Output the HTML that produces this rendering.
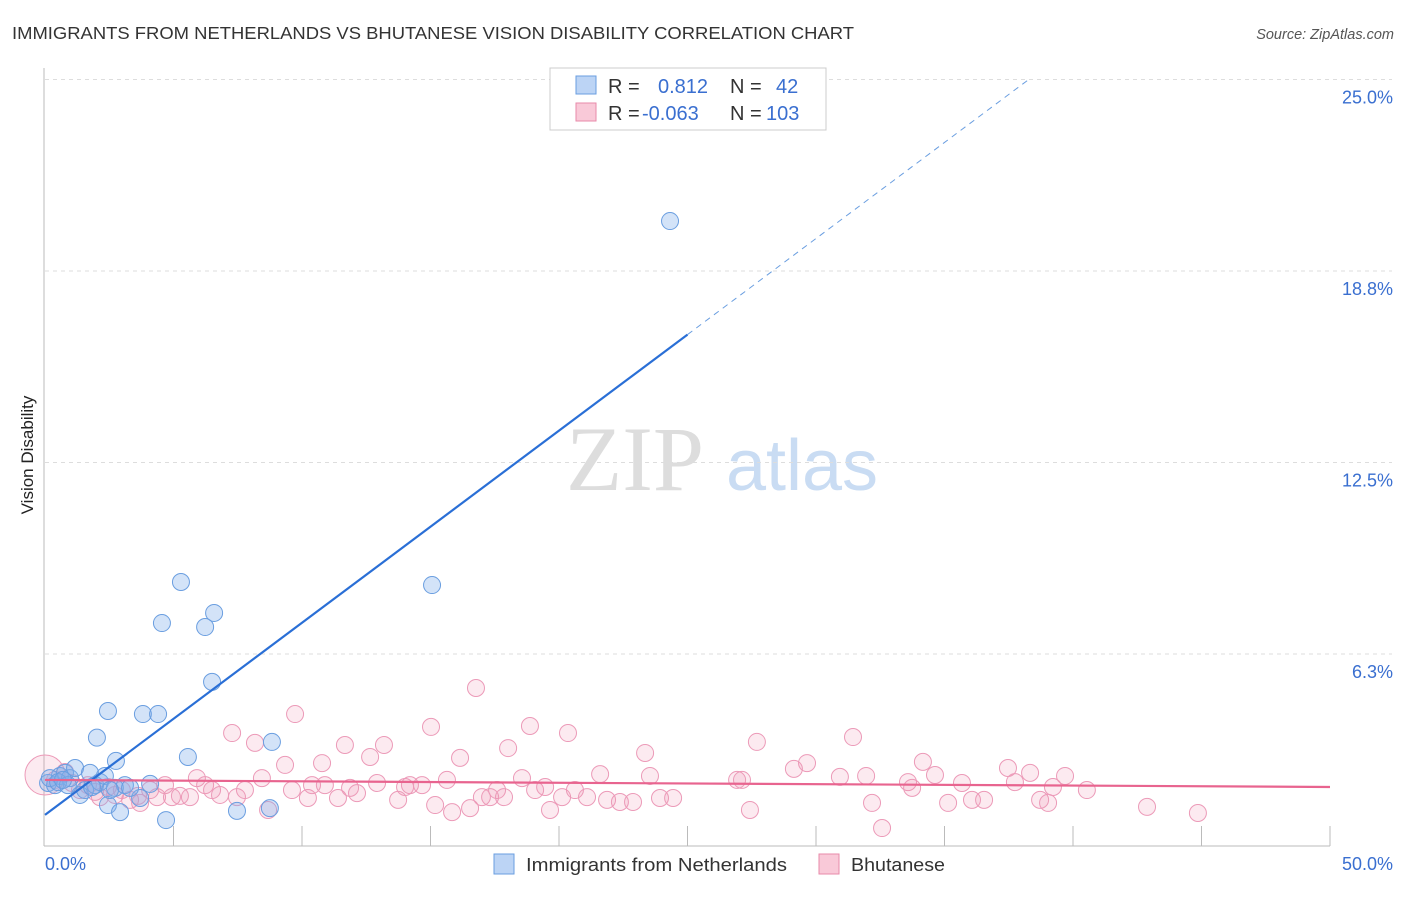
<!DOCTYPE html>
<html><head><meta charset="utf-8"><style>
body{margin:0;background:#fff;font-family:"Liberation Sans",sans-serif}
</style></head><body>
<svg width="1406" height="892" xmlns="http://www.w3.org/2000/svg" id="svg">
<text x="12" y="39" font-size="17.5" fill="#333" textLength="842" lengthAdjust="spacingAndGlyphs">IMMIGRANTS FROM NETHERLANDS VS BHUTANESE VISION DISABILITY CORRELATION CHART</text>
<text x="1394" y="39" font-size="14.5" fill="#555" font-style="italic" text-anchor="end">Source: ZipAtlas.com</text>
<text x="33" y="455" font-size="17" fill="#222" transform="rotate(-90 33 455)" text-anchor="middle">Vision Disability</text>
<g><text x="635" y="490" font-size="92" font-family="Liberation Serif,serif" fill="#ddd" text-anchor="middle">ZIP</text><text x="802" y="490" font-size="72" fill="#c9dcf3" text-anchor="middle">atlas</text></g>
<g id="grid"></g><g id="pts"></g><g id="lines"></g>
<g>
<rect x="550" y="68" width="276" height="62" fill="#fff" stroke="#ccc"/>
<rect x="576" y="76" width="20" height="18" fill="#bcd4f5" stroke="#6a9ee0"/>
<rect x="576" y="103" width="20" height="18" fill="#f9c9d8" stroke="#e88aaa"/>
<text x="608" y="93" font-size="20" fill="#333">R = <tspan fill="#3a6fd0" x="658">0.812</tspan><tspan x="730" fill="#333">N = </tspan><tspan fill="#3a6fd0" x="776">42</tspan></text>
<text x="608" y="120" font-size="20" fill="#333">R = <tspan fill="#3a6fd0" x="642">-0.063</tspan><tspan x="730" fill="#333">N = </tspan><tspan fill="#3a6fd0" x="766">103</tspan></text>
</g>
<g>
<rect x="494" y="854" width="20" height="20" fill="#bcd4f5" stroke="#6a9ee0"/>
<text x="526" y="871" font-size="18.5" fill="#333" textLength="261" lengthAdjust="spacingAndGlyphs">Immigrants from Netherlands</text>
<rect x="819" y="854" width="20" height="20" fill="#f9c9d8" stroke="#e88aaa"/>
<text x="851" y="871" font-size="18.5" fill="#333" textLength="94" lengthAdjust="spacingAndGlyphs">Bhutanese</text>
</g>
</svg>
<script>
const yTicks=[6.25,12.5,18.75,25];
const yTickLabels=["6.3%","12.5%","18.8%","25.0%"];
const xLabels=["0.0%","50.0%"];
const blueX=[0.12,0.39,0.58,0.78,0.97,1.17,1.36,1.56,1.75,1.95,2.14,2.33,2.45,2.72,2.92,3.11,2.02,2.45,2.76,3.81,4.40,4.55,5.29,6.23,6.58,6.50,5.56,8.83,4.09,3.70,4.71,7.47,8.75,15.06,24.32,0.19,0.51,0.89,1.83,2.53,3.31,0.70];
const blueY=[2.04,1.97,2.27,2.37,2.20,2.53,1.65,1.81,2.37,1.97,2.07,2.27,1.32,1.88,1.09,1.97,3.52,4.39,2.76,4.29,4.29,7.26,8.60,7.13,7.59,5.34,2.89,3.38,2.01,1.55,0.83,1.13,1.22,8.50,20.38,2.20,2.07,1.97,1.91,1.81,1.88,2.14];
const pinkX=[0,0.39,0.78,1.05,1.36,1.67,1.95,2.14,2.45,2.72,2.99,3.31,3.62,3.70,4.09,4.36,4.67,4.94,5.25,5.64,5.91,6.23,6.50,6.81,7.28,7.47,7.78,8.17,8.44,8.68,9.34,9.61,9.73,10.23,10.39,10.78,10.89,11.40,11.67,11.87,12.14,12.65,12.92,13.19,13.74,14.01,14.20,14.67,15.02,15.18,15.64,15.84,16.15,16.54,16.77,17.00,17.32,17.59,17.86,18.02,18.56,18.87,19.07,19.46,19.65,20.12,20.35,20.62,21.09,21.60,21.87,22.37,22.88,23.35,23.54,23.93,24.44,26.93,27.12,27.43,27.70,29.14,29.65,30.93,31.44,31.95,32.18,32.57,33.58,33.74,34.16,34.63,35.14,35.68,36.07,36.54,37.47,37.74,38.33,38.72,39.03,39.22,39.69,40.54,42.88,44.86];
const pinkY=[2.30,2.14,2.40,2.04,1.81,1.97,1.75,1.58,1.91,1.65,1.81,1.49,1.62,1.39,1.81,1.58,1.97,1.58,1.62,1.58,2.20,1.97,1.81,1.65,3.67,1.58,1.81,3.35,2.20,1.16,2.63,1.81,4.29,1.55,1.97,2.69,1.97,1.55,3.28,1.88,1.71,2.89,2.04,3.28,1.49,1.91,1.97,1.97,3.87,1.32,2.14,1.09,2.86,1.22,5.14,1.58,1.58,1.81,1.58,3.18,2.20,3.90,1.81,1.91,1.16,1.58,3.67,1.81,1.58,2.33,1.49,1.42,1.42,3.02,2.27,1.55,1.55,2.14,2.14,1.16,3.38,2.50,2.69,2.24,3.54,2.27,1.39,0.57,2.07,1.88,2.73,2.30,1.39,2.04,1.49,1.49,2.53,2.07,2.37,1.49,1.39,1.91,2.27,1.81,1.26,1.06];
const blueTrend=[1.0,0.627]; // intercept, slope
const pinkTrend=[2.14,-0.0046];
const X=v=>45+v*25.7, Y=v=>845.5-v*30.64;
const NS="http://www.w3.org/2000/svg";
function mk(t,a,p){const e=document.createElementNS(NS,t);for(const k in a)e.setAttribute(k,a[k]);p.appendChild(e);return e;}
const g=document.getElementById('grid');
yTicks.forEach((v,i)=>{
 const l=mk('line',{x1:45,x2:1392,y1:Y(v),y2:Y(v),stroke:'#ddd','stroke-dasharray':'4 4'},g);
 
 
 const t=mk('text',{x:1393,y:Y(v)+24,'font-size':18,fill:'#3a6fd0','text-anchor':'end'},g);
 
 
 t.textContent=yTickLabels[i];
});
mk('line',{x1:44,x2:44,y1:68,y2:846,stroke:'#bbb'},g);
mk('line',{x1:44,x2:1330,y1:846,y2:846,stroke:'#bbb'},g);
for(let i=1;i<=10;i++){const t=mk('line',{x1:X(i*5),x2:X(i*5),y1:826,y2:846,stroke:'#bbb'},g);
 
 }
[[0,'start',45],[50,'end',1393]].forEach((a,i)=>{const t=mk('text',{x:a[2],y:870,'font-size':18,fill:'#3a6fd0','text-anchor':a[1]},g);
 
 
 t.textContent=xLabels[i];});
const p=document.getElementById('pts');
pinkX.forEach((x,i)=>{const c=mk('circle',{cx:X(x),cy:Y(pinkY[i]),r:i==0?20:8.5,fill:'rgba(240,150,180,0.2)',stroke:'#ec9ab8','stroke-width':1},p);
 
 });
blueX.forEach((x,i)=>{const c=mk('circle',{cx:X(x),cy:Y(blueY[i]),r:8.5,fill:'rgba(130,175,235,0.35)',stroke:'#6a9ee0','stroke-width':1},p);
 
 });
const L=document.getElementById('lines');
let l1=mk('line',{x1:X(0),y1:Y(blueTrend[0]),x2:X(25),y2:Y(blueTrend[0]+25*blueTrend[1]),stroke:'#2a6fd6','stroke-width':2.2},L);


let l2=mk('line',{x1:X(25),y1:Y(blueTrend[0]+25*blueTrend[1]),x2:X(38.3),y2:Y(blueTrend[0]+38.3*blueTrend[1]),stroke:'#6a9ee0','stroke-width':1,'stroke-dasharray':'6 5'},L);


let l3=mk('line',{x1:X(0),y1:Y(pinkTrend[0]),x2:X(50),y2:Y(pinkTrend[0]+50*pinkTrend[1]),stroke:'#e8648f','stroke-width':2.2},L);


</script>
</body></html>
